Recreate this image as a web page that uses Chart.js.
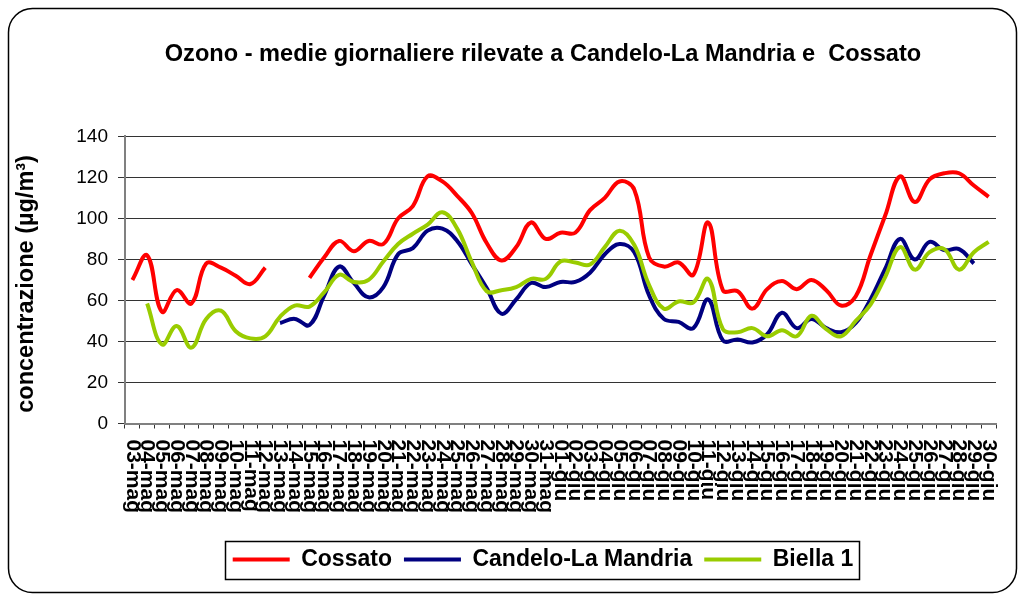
<!DOCTYPE html>
<html><head><meta charset="utf-8">
<script src="https://cdn.jsdelivr.net/npm/chart.js@4.4.1/dist/chart.umd.min.js"></script>
<style>html,body{margin:0;padding:0;background:#fff}canvas{display:block}</style>
</head><body>
<canvas id="c" width="1021" height="597" style="width:1021px;height:597px"></canvas>
<script>
const categories = ['03-mag','04-mag','05-mag','06-mag','07-mag','08-mag','09-mag','10-mag','11-mag','12-mag','13-mag','14-mag','15-mag','16-mag','17-mag','18-mag','19-mag','20-mag','21-mag','22-mag','23-mag','24-mag','25-mag','26-mag','27-mag','28-mag','29-mag','30-mag','31-mag','01-giu','02-giu','03-giu','04-giu','05-giu','06-giu','07-giu','08-giu','09-giu','10-giu','11-giu','12-giu','13-giu','14-giu','15-giu','16-giu','17-giu','18-giu','19-giu','20-giu','21-giu','22-giu','23-giu','24-giu','25-giu','26-giu','27-giu','28-giu','29-giu','30-giu'];
const cossato = [70,82,54.5,65,58.5,78,76,72,68,76,null,null,71,81,89,84,89,87.5,100,106,120.5,118,111,102.5,88,79.5,86,98,90,93,93,104,110,118,114,81,76.5,78.5,72.5,98,65,64.5,56,65.5,69.5,65.5,70,65,57.5,62,82,101.5,120.5,108,119,122,122,116,110.5];
const candelo = [null,null,null,null,null,null,null,null,null,null,49,51,48,62.5,76.5,68.5,61.5,66.5,82.5,85.5,94,95,89,77.5,66,53.5,60.5,68.5,66.5,69,69,73.5,82.5,87.5,83.5,62.5,51,49.5,46.5,60.5,40.5,41,39.5,43.5,54,46.5,51,46.5,44.5,49,60.5,75.5,90,80,88.5,84.5,85,78,null];
const biella = [null,58.5,38.5,47.5,37,51,55,45,41.5,42.5,52,57.5,57,64,72.5,69,70,79,87.5,92.5,97,103,95,78.5,64.5,65,66.5,70.5,70.5,79,78.5,77.5,86,94,87,67.5,56,59.5,59,70.5,46,44.5,46.5,42.5,45.5,42.5,52.5,46,42.5,50,58,71.5,86,75,83.5,85,75,83.5,88.5];
const seriesNames = ['Cossato','Candelo-La Mandria','Biella 1'];
const seriesColors = ['#FF0000','#000080','#99CC00'];
const titleText = 'Ozono - medie giornaliere rilevate a Candelo-La Mandria e  Cossato';
const yTitleText = 'concentrazione (\u00B5g/m\u00B3)';
const yMin = 0, yMax = 140, yStep = 20;

const FONT = "'Liberation Sans', Arial, sans-serif";

const decor = {
  id: 'decor',
  beforeDraw(chart) {
    const ctx = chart.ctx;
    ctx.save();
    ctx.fillStyle = '#fff';
    ctx.fillRect(0, 0, chart.width, chart.height);
    ctx.strokeStyle = '#000';
    ctx.lineWidth = 1.5;
    ctx.beginPath();
    ctx.roundRect(8.5, 8.5, 1008, 584, 24);
    ctx.stroke();
    ctx.restore();
  },
  afterDraw(chart) {
    const ctx = chart.ctx;
    const xs = chart.scales.x;
    const area = chart.chartArea;
    ctx.save();
    // x labels, rotated clockwise (read top to bottom)
    ctx.fillStyle = '#000';
    ctx.font = 'bold 21px ' + FONT;
    ctx.textAlign = 'left';
    ctx.textBaseline = 'middle';
    categories.forEach((lab, i) => {
      const x = xs.getPixelForValue(i);
      ctx.save();
      ctx.translate(x, area.bottom + 16);
      ctx.rotate(Math.PI / 2);
      ctx.fillText(lab, 0, 0);
      ctx.restore();
    });
    // y title
    ctx.save();
    ctx.font = 'bold 23.5px ' + FONT;
    ctx.textAlign = 'center';
    ctx.textBaseline = 'middle';
    ctx.translate(27, (area.top + area.bottom) / 2 + 4);
    ctx.rotate(-Math.PI / 2);
    ctx.fillText(yTitleText, 0, 0);
    ctx.restore();
    // legend border
    const lg = chart.legend;
    if (lg && lg.legendHitBoxes && lg.legendHitBoxes.length) {
      const hb = lg.legendHitBoxes;
      let l = Infinity, r = -Infinity, cy = 0;
      hb.forEach(h => { l = Math.min(l, h.left); r = Math.max(r, h.left + h.width); cy += h.top + h.height / 2; });
      cy /= hb.length;
      ctx.strokeStyle = '#000';
      ctx.lineWidth = 1.5;
      ctx.strokeRect(Math.round(l - 8) + 0.5, Math.round(cy - 19) + 0.5, Math.round(r - l + 13), 38);
    }
    ctx.restore();
  }
};

const ds = [cossato, candelo, biella].map((d, k) => ({
  label: seriesNames[k],
  data: d,
  borderColor: seriesColors[k],
  backgroundColor: seriesColors[k],
  borderWidth: 4,
  pointRadius: 0,
  pointHoverRadius: 0,
  tension: 0.4,
  spanGaps: false,
  fill: false,
  order: 2 - k
}));

new Chart(document.getElementById('c'), {
  type: 'line',
  data: { labels: categories, datasets: ds },
  options: {
    responsive: false,
    animation: false,
    events: [],
    layout: { padding: { left: 72, right: 7, top: 8, bottom: 16 } },
    plugins: {
      title: {
        display: true,
        text: titleText,
        color: '#000',
        font: { family: FONT, size: 23.6, weight: 'bold' },
        padding: { top: 32, bottom: 68 }
      },
      legend: {
        display: true,
        position: 'bottom',
        labels: {
          color: '#000',
          font: { family: FONT, size: 23, weight: 'bold' },
          usePointStyle: true,
          pointStyle: 'line',
          pointStyleWidth: 57,
          padding: 12,
          sort: (a, b) => a.datasetIndex - b.datasetIndex
        }
      },
      tooltip: { enabled: false }
    },
    scales: {
      x: {
        type: 'category',
        offset: true,
        grid: { display: true, drawOnChartArea: false, drawTicks: true, tickLength: 5, offset: true, color: '#333' },
        border: { display: true, color: '#808080', width: 2 },
        ticks: { display: false },
        afterFit: s => { s.height = 112.5; }
      },
      y: {
        min: yMin, max: yMax,
        ticks: { stepSize: yStep, color: '#000', font: { family: FONT, size: 19 }, padding: 10 },
        grid: { color: '#333', lineWidth: 1, tickLength: 7 },
        border: { display: true, color: '#808080', width: 2 },
        afterFit: s => { s.width = 53; }
      },
      yRight: {
        type: 'linear',
        position: 'right',
        display: true,
        grid: { display: false, drawTicks: false },
        border: { display: false },
        ticks: { display: false },
        afterFit: s => { s.width = 18; }
      }
    }
  },
  plugins: [decor]
});
</script>
</body></html>
